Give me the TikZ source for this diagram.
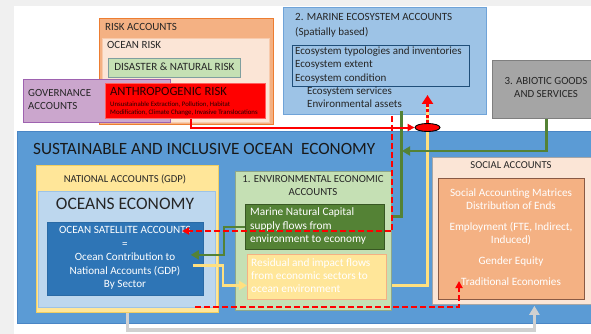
\documentclass[tikz,border=0pt]{standalone}
\usepackage{fontspec}
\setmainfont{Carlito}
\usetikzlibrary{arrows.meta,shapes.geometric}
\definecolor{bggray}{HTML}{F0F0F0}
\definecolor{mainblue}{HTML}{5B9BD5}
\definecolor{mainbluedraw}{HTML}{4A86C5}
\definecolor{natyel}{HTML}{FFE699}
\definecolor{natyeldraw}{HTML}{F2CF61}
\definecolor{lblue}{HTML}{BDD7EE}
\definecolor{lbluedraw}{HTML}{9DC3E6}
\definecolor{satblue}{HTML}{2E75B6}
\definecolor{satbluedraw}{HTML}{2A6AA5}
\definecolor{envgreen}{HTML}{C5E0B4}
\definecolor{envgreendraw}{HTML}{8FA88A}
\definecolor{dkgreen}{HTML}{548235}
\definecolor{dkgreendraw}{HTML}{385723}
\definecolor{residdraw}{HTML}{F4B183}
\definecolor{peach}{HTML}{FBE5D6}
\definecolor{orangefill}{HTML}{F4B183}
\definecolor{orangedraw}{HTML}{ED7D31}
\definecolor{socindraw}{HTML}{8A5A44}
\definecolor{socoutdraw}{HTML}{A6A6A6}
\definecolor{peachdraw}{HTML}{F8CBAD}
\definecolor{disdraw}{HTML}{7F9F9F}
\definecolor{antdraw}{HTML}{FF6060}
\definecolor{govfill}{HTML}{CBA6CD}
\definecolor{govdraw}{HTML}{9E62B0}
\definecolor{marfill}{HTML}{9DC3E6}
\definecolor{mardraw}{HTML}{6FA3D8}
\definecolor{marindraw}{HTML}{1F4E79}
\definecolor{abfill}{HTML}{A5A5A5}
\definecolor{abdraw}{HTML}{7F7F7F}
\definecolor{txt}{HTML}{262626}
\definecolor{graylink}{HTML}{D0D0D0}
\definecolor{yellink}{HTML}{FFE080}
\definecolor{greenlink}{HTML}{548235}
\tikzset{
  box/.style={draw, anchor=north west, inner sep=0pt, line width=0.8pt},
  lbl/.style={anchor=mid west, inner sep=0pt, text=txt},
  clbl/.style={anchor=mid, inner sep=0pt, text=txt},
  fs/.style={font=\fontsize{#1}{#1}\selectfont},
  greenarrow/.style={draw=greenlink, line width=2.6pt, -{Triangle[length=8pt,width=9pt]}},
  greenline/.style={draw=greenlink, line width=2.6pt},
  yellowarrow/.style={draw=yellink, line width=2.6pt, -{Triangle[length=8pt,width=9pt]}},
  yellowline/.style={draw=yellink, line width=2.6pt},
  redsolid/.style={draw=red, line width=2pt, -{Triangle[length=7pt,width=7pt]}},
  reddash/.style={draw=red, line width=2pt, dash pattern=on 6pt off 3pt},
  reddasharrow/.style={reddash, -{Triangle[length=7pt,width=7pt]}},
  grayarrow/.style={draw=graylink, line width=3.2pt, -{Triangle[length=9pt,width=10pt]}}
}
\begin{document}
\begin{tikzpicture}[x=1pt,y=-1pt]
\useasboundingbox (0,0) rectangle (591,334);
\fill[bggray] (0,0) rectangle (591,334);
\fill[white] (14,6) rectangle (591,334);

% main blue area
\node[box, fill=mainblue, draw=mainbluedraw, minimum width=578, minimum height=192] (main) at (17,131) {};
\node[lbl, fs=17.2, text=black!90] (title) at (33,152) {SUSTAINABLE AND INCLUSIVE OCEAN\ \ ECONOMY};

% gray link national -> social
\node[box, fill=peach, draw=socoutdraw, minimum width=160, minimum height=147] (socout) at (432,157) {};
\node[box, fill=natyel, draw=natyeldraw, minimum width=182, minimum height=147] (natacc) at (36,165) {};
\draw[grayarrow] (natacc.south) |- (330,330) -| ([xshift=22pt,yshift=-1pt]socout.south);

% marine ecosystem box
\node[box, fill=marfill, draw=mardraw, minimum width=203, minimum height=107] (marine) at (283,7) {};
\node[box, draw=marindraw, line width=0.9pt, minimum width=177, minimum height=41] (marinein) at (292,45) {};

% abiotic
\node[box, fill=abfill, draw=abdraw, minimum width=108, minimum height=58] (abiotic) at (492,60) {};

% environmental economic accounts
\node[box, fill=envgreen, draw=envgreendraw, minimum width=156, minimum height=139] (env) at (235,171) {};
\node[box, fill=dkgreen, draw=dkgreendraw, minimum width=139, minimum height=45] (mnc) at (245,204) {};
\node[box, fill=natyel, draw=residdraw, minimum width=139, minimum height=45] (resid) at (247,254) {};
\node[ellipse, draw=black, fill=red, line width=0.9pt, minimum width=25pt, minimum height=8pt, inner sep=0pt] (ell) at (427.5,127.5) {};

\coordinate (ry) at ([yshift=-8.5pt]resid.east);
\draw[yellowline] (ry -| env.east) -| (ell.south);
\coordinate (gy) at ([yshift=10.5pt]mnc.east);
\draw[greenline] ([xshift=16.5pt,yshift=4pt]marine.south) |- (gy -| env.east);
\coordinate (gjoin) at (402,151);
\draw[greenarrow] (abiotic.south) |- (gjoin);

% oceans economy
\node[box, fill=lblue, draw=lbluedraw, minimum width=177, minimum height=116] (oceco) at (38,191) {};
\node[box, fill=satblue, draw=satbluedraw, minimum width=156, minimum height=73] (sat) at (47,222) {};

% social inner
\node[box, fill=orangefill, draw=socindraw, minimum width=146, minimum height=121] (socin) at (438,178) {};

% risk accounts
\node[box, fill=orangefill, draw=orangedraw, minimum width=174, minimum height=106] (risk) at (99,18) {};
\node[box, fill=peach, draw=peachdraw, minimum width=167, minimum height=84] (ocrisk) at (102,38) {};
\node[box, fill=envgreen, draw=disdraw, minimum width=132, minimum height=19] (disaster) at (108,58) {};
\node[box, fill=govfill, draw=govdraw, minimum width=147, minimum height=43] (gov) at (23,79) {};
\node[box, fill=red, draw=antdraw, minimum width=160, minimum height=35] (anthro) at (105,83) {};

% texts
\node[lbl, fs=11] (trisk) at (105,28) {RISK ACCOUNTS};
\node[lbl, fs=11] (tocrisk) at (107,46) {OCEAN RISK};
\node[clbl, fs=11.1] (tdis) at (disaster.center) {DISASTER \& NATURAL RISK};
\node[lbl, fs=12.6, text=black!85!red] (tant) at (110,93) {ANTHROPOGENIC RISK};
\node[lbl, fs=6.8, text=black!85!red] (tant1) at (110,104) {Unsustainable Extraction, Pollution, Habitat};
\node[lbl, fs=6.8, text=black!85!red] (tant2) at (110,112) {Modification, Climate Change, Invasive Translocations};
\node[lbl, fs=10.9] (tgov1) at (28,94) {GOVERNANCE};
\node[lbl, fs=10.9] (tgov2) at (28,107) {ACCOUNTS};

\node[lbl, fs=11] (tmar1) at (295,18) {2. MARINE ECOSYSTEM ACCOUNTS};
\node[lbl, fs=11] (tmar2) at (295,33) {(Spatially based)};
\node[lbl, fs=11] (tmar3) at (295,52) {Ecosystem typologies and inventories};
\node[lbl, fs=11] (tmar4) at (295,65) {Ecosystem extent};
\node[lbl, fs=11] (tmar5) at (295,79) {Ecosystem condition};
\node[lbl, fs=11] (tmar6) at (307,92) {Ecosystem services};
\node[lbl, fs=11] (tmar7) at (307,105) {Environmental assets};

\node[clbl, fs=10.9] (tab1) at (546,82) {3. ABIOTIC GOODS};
\node[clbl, fs=10.9] (tab2) at (546,95) {AND SERVICES};

\node[clbl, fs=10.6] (tnat) at (125,180) {NATIONAL ACCOUNTS (GDP)};
\node[clbl, fs=17.5] (toce) at (125,207) {OCEANS ECONOMY};
\node[clbl, fs=11.1, text=white] (ts1) at (125,231) {OCEAN SATELLITE ACCOUNTS};
\node[clbl, fs=11.1, text=white] (ts2) at (125,245) {=};
\node[clbl, fs=11.1, text=white] (ts3) at (125,258) {Ocean Contribution to};
\node[clbl, fs=11.1, text=white] (ts4) at (125,272) {National Accounts (GDP)};
\node[clbl, fs=11.1, text=white] (ts5) at (125,285) {By Sector};

\node[clbl, fs=10.8] (tenv1) at (313,180) {1. ENVIRONMENTAL ECONOMIC};
\node[clbl, fs=10.8] (tenv2) at (313,193) {ACCOUNTS};
\node[lbl, fs=11.3, text=white] (tm1) at (250,213) {Marine Natural Capital};
\node[lbl, fs=11.3, text=white] (tm2) at (250,227) {supply flows from};
\node[lbl, fs=11.3, text=white] (tm3) at (250,240) {environment to economy};
\node[lbl, fs=11.3, text=white] (tr1) at (251,264) {Residual and impact flows};
\node[lbl, fs=11.3, text=white] (tr2) at (251,277) {from economic sectors to};
\node[lbl, fs=11.3, text=white] (tr3) at (251,290) {ocean environment};

\node[clbl, fs=10.6] (tsoc) at (511,166) {SOCIAL ACCOUNTS};
\node[clbl, fs=11.2, text=white] (tso1) at (511,194) {Social Accounting Matrices};
\node[clbl, fs=11.2, text=white] (tso2) at (511,207) {Distribution of Ends};
\node[clbl, fs=11.2, text=white] (tso3) at (511,228) {Employment (FTE, Indirect,};
\node[clbl, fs=11.2, text=white] (tso4) at (511,241) {Induced)};
\node[clbl, fs=11.2, text=white] (tso5) at (511,262) {Gender Equity};
\node[clbl, fs=11.2, text=white] (trad) at (511,283) {Traditional Economies};

% connectors on top
\draw[redsolid] ([xshift=6pt]anthro.south) |- (ell.west);
\coordinate (uptip) at (427.5,95);
\draw[draw=yellink, line width=3pt] (ell.north) -- ([yshift=-8pt]uptip);
\draw[draw=red, line width=3pt, dash pattern=on 3pt off 2.5pt, -{Triangle[length=9pt,width=11pt]}] (ell.north) -- (uptip);

\draw[greenarrow] (mnc.west) -- ++(-21,0) |- ([xshift=-13pt,yshift=4pt]sat.east);
\draw[yellowarrow] ([xshift=-11pt,yshift=-6.5pt]sat.east) -| (223,276) |- ([yshift=-8.5pt]resid.west);

\coordinate (rdtip) at (182,231);
\draw[reddasharrow] ([xshift=7.5pt,yshift=-1pt]marine.south) |- (rdtip);
\coordinate (rdstart) at (195,307);
\coordinate (rdtip2) at (459,281);
\draw[reddasharrow] (rdstart) -| (rdtip2);
\end{tikzpicture}
\end{document}
